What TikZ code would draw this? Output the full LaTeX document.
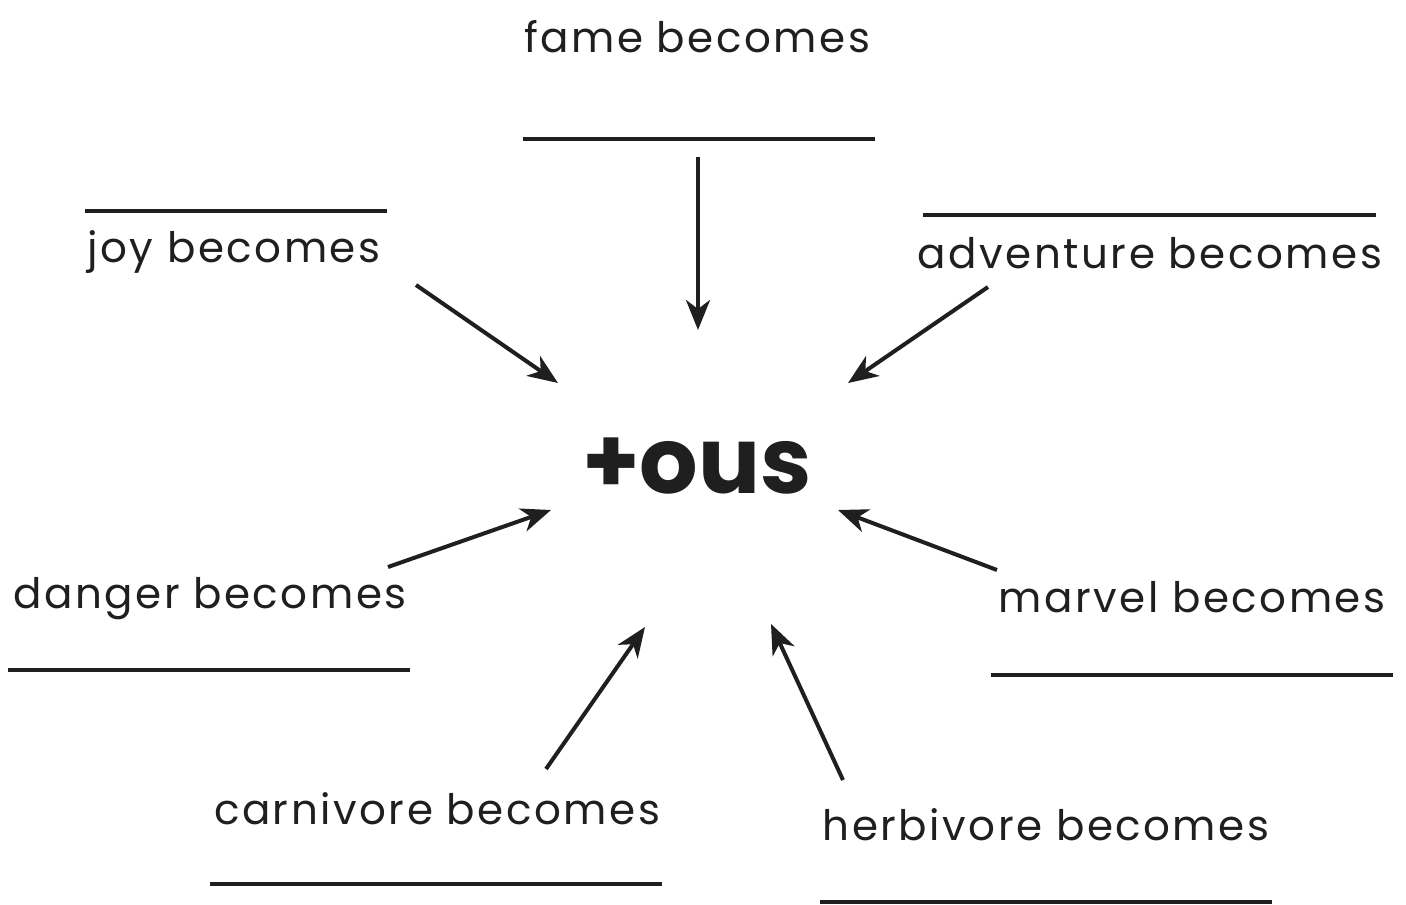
\documentclass[tikz,border=0pt]{standalone}
\usepackage{fontspec}
\setmainfont{Poppins}
\newfontfamily\labelfont[LetterSpace=6]{Poppins}
\usetikzlibrary{arrows.meta}

\tikzset{
  becomes/.style={anchor=base, inner sep=0pt, font=\labelfont\fontsize{42}{48}\selectfont, text=black!88},
  blank/.style={line width=3.2pt, black!88},
  pointer/.style={line width=4pt, black!88, -{Stealth[length=30pt, width=24pt, inset=9pt]}}
}

\begin{document}
\begin{tikzpicture}[x=1pt, y=-1pt]
  \useasboundingbox[fill=white] (0,0) rectangle (1406,905);

  % centre word
  \node[anchor=base, inner sep=0pt, font=\bfseries\fontsize{92}{100}\selectfont, text=black!88] (ous) at (697,493) {+ous};

  % labels
  \node[becomes] (fame) at (697,52) {fame becomes};
  \node[becomes] (joy) at (234,262) {joy becomes};
  \node[becomes] (adventure) at (1150,268) {adventure becomes};
  \node[becomes] (danger) at (210,608) {danger becomes};
  \node[becomes] (marvel) at (1192,612) {marvel becomes};
  \node[becomes] (carnivore) at (437,824) {carnivore becomes};
  \node[becomes] (herbivore) at (1046,840) {herbivore becomes};

  % answer lines
  \coordinate (fame-l) at (523,139);      \coordinate (fame-r) at (875,139);
  \coordinate (joy-l) at (85,211);        \coordinate (joy-r) at (387,211);
  \coordinate (adventure-l) at (923,215); \coordinate (adventure-r) at (1376,215);
  \coordinate (danger-l) at (8,670);      \coordinate (danger-r) at (410,670);
  \coordinate (marvel-l) at (991,675);    \coordinate (marvel-r) at (1393,675);
  \coordinate (carnivore-l) at (210,884); \coordinate (carnivore-r) at (662,884);
  \coordinate (herbivore-l) at (820,902); \coordinate (herbivore-r) at (1272,902);
  \draw[blank] (fame-l) -- (fame-r);
  \draw[blank] (joy-l) -- (joy-r);
  \draw[blank] (adventure-l) -- (adventure-r);
  \draw[blank] (danger-l) -- (danger-r);
  \draw[blank] (marvel-l) -- (marvel-r);
  \draw[blank] (carnivore-l) -- (carnivore-r);
  \draw[blank] (herbivore-l) -- (herbivore-r);

  % arrows into the centre
  \coordinate (fame-from) at (698,157);      \coordinate (fame-to) at (698,330);
  \coordinate (joy-from) at (416,285);       \coordinate (joy-to) at (558,383);
  \coordinate (adventure-from) at (988,287); \coordinate (adventure-to) at (848,383);
  \coordinate (danger-from) at (388,567);    \coordinate (danger-to) at (551,510);
  \coordinate (marvel-from) at (997,570);    \coordinate (marvel-to) at (838,510);
  \coordinate (carnivore-from) at (546,769); \coordinate (carnivore-to) at (645,627);
  \coordinate (herbivore-from) at (843,780); \coordinate (herbivore-to) at (771,624);
  \draw[pointer] (fame-from) -- (fame-to);
  \draw[pointer] (joy-from) -- (joy-to);
  \draw[pointer] (adventure-from) -- (adventure-to);
  \draw[pointer] (danger-from) -- (danger-to);
  \draw[pointer] (marvel-from) -- (marvel-to);
  \draw[pointer] (carnivore-from) -- (carnivore-to);
  \draw[pointer] (herbivore-from) -- (herbivore-to);
\end{tikzpicture}
\end{document}
